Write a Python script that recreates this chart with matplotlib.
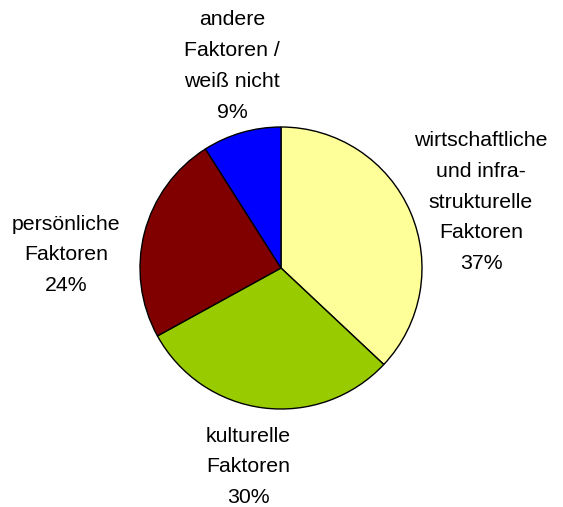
import matplotlib
matplotlib.use("Agg")
import matplotlib.pyplot as plt

categories = [
    "wirtschaftliche\nund infra-\nstrukturelle\nFaktoren",
    "kulturelle\nFaktoren",
    "persönliche\nFaktoren",
    "andere\nFaktoren /\nweiß nicht",
]
shares = [37, 30, 24, 9]
colors = ["#FFFF99", "#99CC00", "#800000", "#0000FF"]
label_pos = [(481, 305), (248, 40), (66, 252), (232, 441)]

W, H = 563, 507
fig = plt.figure(figsize=(W / 100, H / 100), dpi=100)
ax = fig.add_axes([0, 0, 1, 1])

ax.pie(
    shares,
    colors=colors,
    startangle=90,
    counterclock=False,
    center=(281, H - 268),
    radius=141,
    wedgeprops=dict(edgecolor="black", linewidth=1),
    frame=True,
)
ax.axis("off")
ax.set_xlim(0, W)
ax.set_ylim(0, H)
ax.set_aspect("equal")

for name, val, (x, y) in zip(categories, shares, label_pos):
    ax.text(x, y, f"{name}\n{val}%", ha="center", va="center",
            fontsize=15.3, family="Liberation Sans", linespacing=1.78)

fig.savefig("out.png", dpi=100)
